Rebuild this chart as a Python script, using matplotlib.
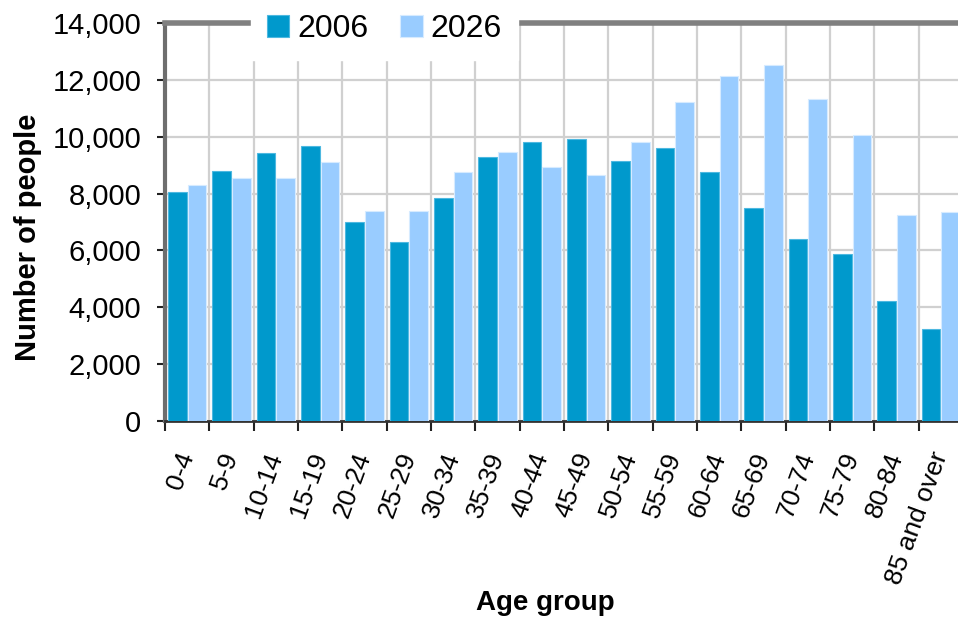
import numpy as np
import matplotlib.pyplot as plt
from matplotlib.ticker import FuncFormatter, FixedLocator

plt.rcParams['font.family'] = ['Liberation Sans', 'DejaVu Sans']

age_groups = ['0-4', '5-9', '10-14', '15-19', '20-24', '25-29', '30-34', '35-39',
              '40-44', '45-49', '50-54', '55-59', '60-64', '65-69', '70-74',
              '75-79', '80-84', '85 and over']
people_2006 = [8050, 8800, 9420, 9670, 7000, 6280, 7840, 9300,
               9800, 9910, 9160, 9600, 8750, 7490, 6390, 5870, 4210, 3250]
people_2026 = [8300, 8550, 8550, 9100, 7400, 7400, 8750, 9450,
               8950, 8650, 9800, 11230, 12130, 12540, 11320, 10060, 7240, 7350]
series_names = ['2006', '2026']

COLOR_2006 = '#0099cc'
COLOR_2026 = '#99ccff'

fig = plt.figure(figsize=(9.58, 6.2), dpi=100)
ax = fig.add_axes([165 / 958, 1 - 421 / 620, 798 / 958, 398 / 620])

x = np.arange(len(age_groups))
width = 0.42
ax.bar(x - 0.225, people_2006, width, color=COLOR_2006, edgecolor='#4db8e0',
       linewidth=0.8, label=series_names[0], zorder=3)
ax.bar(x + 0.225, people_2026, width, color=COLOR_2026, edgecolor='#d6ebff',
       linewidth=0.8, label=series_names[1], zorder=3)

ax.set_xlim(-0.5, len(age_groups) - 0.5)
ax.set_ylim(0, 14000)
ax.set_yticks(np.arange(0, 14001, 2000))
ax.yaxis.set_major_formatter(FuncFormatter(lambda v, p: '{:,.0f}'.format(v)))

# labels sit in the middle of each group, tick marks and grid on the boundaries
ax.set_xticks(x)
ax.set_xticklabels(age_groups, rotation=70, ha='right', va='center',
                   rotation_mode='anchor', fontsize=19)
ax.xaxis.set_minor_locator(FixedLocator(np.arange(-0.5, len(age_groups), 1.0)))
ax.tick_params(axis='x', which='major', length=0, pad=23)
ax.tick_params(axis='x', which='minor', length=7, width=1.5, color='#222222')
ax.tick_params(axis='y', length=6, width=1.5, color='#222222', labelsize=21, pad=11)

ax.set_axisbelow(True)
ax.grid(axis='x', which='minor', color='#d0d0d0', linewidth=1.6)
ax.grid(axis='y', which='major', color='#d0d0d0', linewidth=1.6)

ax.spines['right'].set_visible(False)
ax.spines['top'].set_color('#808080')
ax.spines['top'].set_linewidth(4)
ax.spines['left'].set_color('#6e6e6e')
ax.spines['left'].set_linewidth(3)
ax.spines['bottom'].set_color('#333333')
ax.spines['bottom'].set_linewidth(2)

ax.set_ylabel('Number of people', fontsize=21, fontweight='bold')
ax.yaxis.set_label_coords(-0.154, 0.462)
ax.set_xlabel('Age group', fontsize=20, fontweight='bold')
ax.xaxis.set_label_coords(0.476, -0.425)

leg = ax.legend(loc='center', bbox_to_anchor=(0.275, 0.985), ncol=2,
                fontsize=23, frameon=True, facecolor='white', edgecolor='white',
                framealpha=1, fancybox=False, handlelength=0.7, handleheight=0.7,
                handletextpad=0.25, columnspacing=1.0, borderpad=0.5)
leg.set_zorder(10)

fig.savefig('out.png', dpi=100)
